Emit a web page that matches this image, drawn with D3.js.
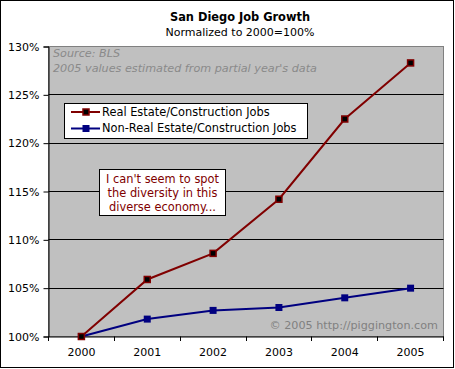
<!DOCTYPE html>
<html><head><meta charset="utf-8">
<script src="https://cdn.jsdelivr.net/npm/d3@7"></script>
<style>
html,body{margin:0;padding:0;background:#fff;}
svg{display:block;font-family:"DejaVu Sans",Verdana,sans-serif;}
</style></head>
<body>
<svg id="chart" width="455" height="369"></svg>
<script>
const years = ["2000","2001","2002","2003","2004","2005"];
const realEstate = [100.0, 105.9, 108.6, 114.2, 122.5, 128.3];
const nonRealEstate = [100.0, 101.8, 102.7, 103.0, 104.0, 105.0];
const yTicks = [100,105,110,115,120,125,130];
const seriesNames = ["Real Estate/Construction Jobs","Non-Real Estate/Construction Jobs"];
const titleText = "San Diego Job Growth";
const subtitleText = "Normalized to 2000=100%";
const sourceLines = ["Source: BLS","2005 values estimated from partial year's data"];
const noteLines = ["I can't seem to spot","the diversity in this","diverse economy..."];
const copyrightText = "\u00A9 2005 http://piggington.com";

const svg = d3.select("#chart");
svg.append("rect").attr("x",0.5).attr("y",0.5).attr("width",453).attr("height",367)
  .attr("fill","#fff").attr("stroke","#000");

const x = d3.scaleBand().domain(years).range([48.5,443.5]);
const y = d3.scaleLinear().domain([100,130]).range([336.5,46.5]);

// plot area
svg.append("rect").attr("x",48.5).attr("y",46.5).attr("width",395).attr("height",290)
  .attr("fill","#C0C0C0").attr("stroke","#808080");

// gridlines
svg.append("g").selectAll("line").data(yTicks.filter(d=>d>100&&d<130)).join("line")
  .attr("x1",48.5).attr("x2",443.5).attr("y1",d=>Math.round(y(d)-0.5)+0.5).attr("y2",d=>Math.round(y(d)-0.5)+0.5)
  .attr("stroke","#000");

// y axis
const yAxis = svg.append("g").attr("transform","translate(48.5,0)")
  .call(d3.axisLeft(y).tickValues(yTicks).tickFormat(d=>d+"%").tickSize(5).tickPadding(4));
yAxis.select(".domain").attr("stroke","#000");
yAxis.selectAll(".tick line").attr("stroke","#000");
yAxis.selectAll("text").attr("fill","#000").style("font-size","11px").style("font-family","DejaVu Sans");

// x axis
const xAxis = svg.append("g").attr("transform","translate(0,336.5)")
  .call(d3.axisBottom(x).tickSize(0).tickPadding(12));
xAxis.select(".domain").attr("stroke","#000");
xAxis.selectAll("text").attr("fill","#000").style("font-size","11px").style("font-family","DejaVu Sans");
// boundary ticks
const bounds = years.map(d=>x(d)).concat([x.range()[1]]);
svg.append("g").selectAll("line").data(bounds).join("line")
  .attr("x1",d=>Math.round(d-0.5)+0.5).attr("x2",d=>Math.round(d-0.5)+0.5)
  .attr("y1",336.5).attr("y2",341).attr("stroke","#000");

// titles
svg.append("text").attr("x",240).attr("y",21).attr("text-anchor","middle")
  .style("font-weight","bold").style("font-size","11.4px").text(titleText);
svg.append("text").attr("x",240).attr("y",36).attr("text-anchor","middle")
  .style("font-size","11px").text(subtitleText);

// source
svg.append("g").selectAll("text").data(sourceLines).join("text")
  .attr("x",53).attr("y",(d,i)=>57+i*15).attr("fill","#8a8a8a")
  .style("font-style","italic").style("font-size","11.2px").text(d=>d);

// copyright
svg.append("text").attr("x",438).attr("y",329).attr("text-anchor","end")
  .attr("fill","#808080").style("font-size","11.2px").text(copyrightText);

const cx = d=>x(d)+x.bandwidth()/2;
const line = d3.line().x((d,i)=>cx(years[i])).y(d=>y(d));

// series
svg.append("path").datum(nonRealEstate).attr("d",line).attr("fill","none")
  .attr("stroke","#000080").attr("stroke-width",2);
svg.append("g").selectAll("rect").data(nonRealEstate).join("rect")
  .attr("x",(d,i)=>cx(years[i])-3.5).attr("y",d=>y(d)-3.5).attr("width",7).attr("height",7)
  .attr("fill","#000080");

svg.append("path").datum(realEstate).attr("d",line).attr("fill","none")
  .attr("stroke","#800000").attr("stroke-width",2);
svg.append("g").selectAll("rect").data(realEstate).join("rect")
  .attr("x",(d,i)=>cx(years[i])-3).attr("y",d=>y(d)-3).attr("width",6).attr("height",6)
  .attr("fill","#000").attr("stroke","#800000").attr("stroke-width",1.5);

// legend
const lg = svg.append("g");
lg.append("rect").attr("x",64.5).attr("y",103.5).attr("width",243).attr("height",35)
  .attr("fill","#fff").attr("stroke","#000");
const colors = ["#800000","#000080"];
seriesNames.forEach((name,i)=>{
  const yy = 112 + i*16.5;
  lg.append("line").attr("x1",71).attr("x2",100).attr("y1",yy).attr("y2",yy)
    .attr("stroke",colors[i]).attr("stroke-width",2);
  if(i===0){
    lg.append("rect").attr("x",83).attr("y",yy-3).attr("width",6).attr("height",6)
      .attr("fill","#000").attr("stroke","#800000").attr("stroke-width",1.5);
  } else {
    lg.append("rect").attr("x",82.5).attr("y",yy-3.5).attr("width",7).attr("height",7)
      .attr("fill","#000080");
  }
  lg.append("text").attr("x",102).attr("y",yy).attr("dy","0.35em")
    .style("font-size","11.4px").attr("fill","#000").text(name);
});

// note box
const ng = svg.append("g");
ng.append("rect").attr("x",99.5).attr("y",169.5).attr("width",126).attr("height",46)
  .attr("fill","#fff").attr("stroke","#000");
ng.selectAll("text").data(noteLines).join("text")
  .attr("x",162.5).attr("y",(d,i)=>182.5+i*14).attr("text-anchor","middle")
  .attr("fill","#800000").style("font-size","11.4px").text(d=>d);
</script>
</body></html>
